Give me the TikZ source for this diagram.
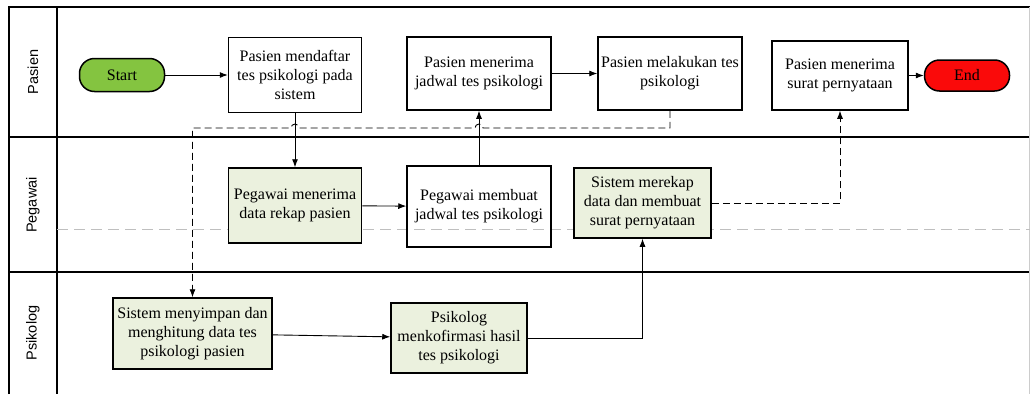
\documentclass[tikz,border=0pt]{standalone}
\usepackage{fontspec}
\setmainfont{Liberation Serif}
\newfontfamily\lanefont{Liberation Sans}
\usepackage{xcolor}
\usetikzlibrary{shapes,positioning,calc}
\usetikzlibrary{arrows.meta}
\tikzset{>={Latex[length=8pt,width=6pt]}}
\definecolor{startgreen}{RGB}{132,196,64}
\definecolor{endred}{RGB}{250,10,10}
\definecolor{taskgreen}{RGB}{235,241,222}

\begin{document}
\begin{tikzpicture}[x=1pt,y=-1pt,
	proc/.style={draw,line width=1.5pt,align=center,inner sep=2pt,font=\fontsize{16}{19}\selectfont},
	sys/.style={proc,fill=taskgreen},
	term/.style={draw,line width=1.5pt,rounded corners=15pt,font=\fontsize{16}{19}\selectfont},
	lane/.style={rotate=90,font=\lanefont\fontsize{14.5}{16}\selectfont},
	flow/.style={->,line width=0.9pt},
	msg/.style={->,dash pattern=on 7pt off 4pt,line width=0.9pt}]
	\useasboundingbox (0,0) rectangle (1032,394);
	\def\hop{128} % y of the dashed message line
	% pool and lanes
	\draw[line width=1.4pt] (9,394) -- (9,7) -- (1030,7);
	\draw[line width=1.4pt] (57,7) -- (57,394);
	\draw[line width=1.4pt] (9,137) -- (1030,137);
	\draw[line width=1.4pt] (9,272) -- (1030,272);
	\draw[black!20] (1029,7) -- (1029,394);
	\draw[dash pattern=on 11pt off 6pt,black!25,line width=0.9pt] (57,229) -- (1030,229);
	\node[lane] (lPasien) at (33,72) {Pasien};
	\node[lane] (lPegawai) at (33,205) {Pegawai};
	\node[lane] (lPsikolog) at (33,333) {Psikolog};
	% Pasien
	\node[term,fill=startgreen,minimum width=85pt,minimum height=33pt] (start) at (122,75) {Start};
	\node[proc,minimum width=133pt,minimum height=75pt] (daftar) at (295,75) {Pasien mendaftar\\tes psikologi pada\\sistem};
	\node[proc,minimum width=144pt,minimum height=73pt] (terimaJadwal) at (479,73.5) {Pasien menerima\\jadwal tes psikologi};
	\node[proc,minimum width=144pt,minimum height=73pt] (lakukanTes) at (670,73.5) {Pasien melakukan tes\\psikologi};
	\node[proc,minimum width=136pt,minimum height=69pt] (terimaSurat) at (840,75.5) {Pasien menerima\\surat pernyataan};
	\node[term,fill=endred,minimum width=85pt,minimum height=31pt] (end) at (967,75.5) {End};
	% Pegawai
	\node[sys,minimum width=133pt,minimum height=75pt] (terimaRekap) at (295,205.5) {Pegawai menerima\\data rekap pasien};
	\node[proc,minimum width=144pt,minimum height=81pt] (buatJadwal) at (479,206.5) {Pegawai membuat\\jadwal tes psikologi};
	\node[sys,minimum width=137pt,minimum height=70pt] (rekap) at (642.5,203) {Sistem merekap\\data dan membuat\\surat pernyataan};
	% Psikolog
	\node[sys,minimum width=159pt,minimum height=71pt] (simpan) at (192.5,333.5) {Sistem menyimpan dan\\menghitung data tes\\psikologi pasien};
	\node[sys,minimum width=136pt,minimum height=70pt] (konfirmasi) at (459,338) {Psikolog\\menkofirmasi hasil\\tes psikologi};
	% connectors
	\draw[flow] (start) -- (daftar);
	\draw[flow] (daftar) -- (terimaRekap);
	\draw[flow] (terimaRekap) -- (buatJadwal);
	\draw[flow] (buatJadwal) -- (terimaJadwal);
	\draw[flow] (terimaJadwal) -- (lakukanTes);
	\draw[msg] (lakukanTes.south) -- (lakukanTes.south |- 0,\hop)
		-- ([xshift=4pt]terimaJadwal.south |- 0,\hop) arc[start angle=0,end angle=180,radius=4pt]
		-- ([xshift=4pt]daftar.south |- 0,\hop) arc[start angle=0,end angle=180,radius=4pt]
		-- (simpan.north |- 0,\hop) -- (simpan.north);
	\draw[flow] (simpan) -- (konfirmasi);
	\draw[flow] (konfirmasi.east) -| (rekap.south);
	\draw[msg] (rekap.east) -| (terimaSurat.south);
	\draw[flow] (terimaSurat) -- (end);
\end{tikzpicture}
\end{document}
